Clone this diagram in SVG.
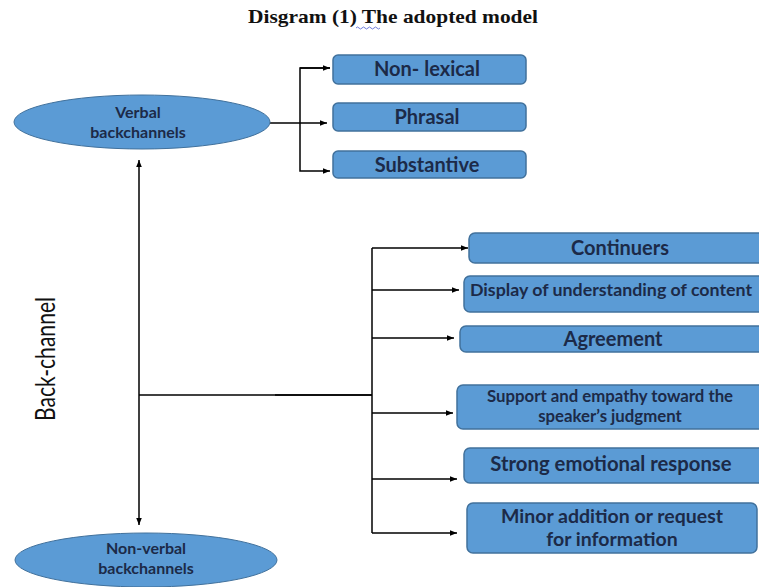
<svg xmlns="http://www.w3.org/2000/svg" width="759" height="587" viewBox="0 0 759 587">
<defs>
<marker id="ah" viewBox="0 0 10 10" refX="10" refY="5" markerWidth="7" markerHeight="7" markerUnits="userSpaceOnUse" orient="auto-start-reverse"><path d="M0,1 L10,5 L0,9 Z" fill="#000"/></marker>
<style>
.box{fill:#5b9bd5;stroke:#41719c;stroke-width:1.5}
.ell{fill:#5b9bd5;stroke:#41719c;stroke-width:1}
.t{font-family:Lato,"Open Sans","Liberation Sans",sans-serif;font-weight:bold;fill:#1c2a48;text-anchor:middle}
.c{fill:none;stroke:#000;stroke-width:1.5}
</style>
</defs>
<rect width="759" height="587" fill="#fff"/>
<g id="title">
<text x="393" y="23" font-family="'Liberation Serif',serif" font-weight="bold" font-size="19" text-anchor="middle" fill="#111" textLength="290" lengthAdjust="spacingAndGlyphs">Disgram (1) The adopted model</text>
<path d="M356,28 q1.5,-2 3,0 t3,0 t3,0 t3,0 t3,0 t3,0 t3,0 t3,0" fill="none" stroke="#4a5bd0" stroke-width="0.8"/>
</g>
<g id="connectors">
<path class="c" d="M270,123 H327" marker-end="url(#ah)"/>
<path class="c" d="M330,68 H300 V171 H330" marker-end="url(#ah)"/>
<path class="c" d="M300,68 H330" marker-end="url(#ah)"/>
<path class="c" d="M139,160 V525" marker-start="url(#ah)" marker-end="url(#ah)"/>
<path class="c" d="M139,395 H372"/>
<path class="c" d="M275,395 H372" stroke-width="2.2"/>
<path class="c" d="M372,248 V533"/>
<path class="c" d="M372,248 H468" marker-end="url(#ah)"/>
<path class="c" d="M372,290 H459" marker-end="url(#ah)"/>
<path class="c" d="M372,338 H454" marker-end="url(#ah)"/>
<path class="c" d="M372,413 H453" marker-end="url(#ah)"/>
<path class="c" d="M372,479 H457" marker-end="url(#ah)"/>
<path class="c" d="M372,533 H457" marker-end="url(#ah)"/>
</g>
<g id="backchannel-label">
<text transform="translate(55,359) rotate(-90)" font-family="Lato,'Open Sans','Liberation Sans',sans-serif" font-size="26" text-anchor="middle" fill="#111" textLength="124" lengthAdjust="spacingAndGlyphs">Back-channel</text>
</g>
<g id="verbal">
<ellipse class="ell" cx="142" cy="122" rx="128" ry="27"/>
<text class="t" x="138" y="118" font-size="16">Verbal</text>
<text class="t" x="138" y="138" font-size="16">backchannels</text>
</g>
<g id="nonverbal">
<ellipse class="ell" cx="146" cy="560" rx="131" ry="27"/>
<text class="t" x="146" y="554" font-size="16">Non-verbal</text>
<text class="t" x="146" y="574" font-size="16">backchannels</text>
</g>
<g id="nonlexical">
<rect class="box" x="333" y="55" width="193" height="29" rx="5"/>
<text class="t" x="427" y="76" font-size="20">Non- lexical</text>
</g>
<g id="phrasal">
<rect class="box" x="333" y="103" width="193" height="28" rx="5"/>
<text class="t" x="427" y="124" font-size="20">Phrasal</text>
</g>
<g id="substantive">
<rect class="box" x="333" y="151" width="193" height="27" rx="5"/>
<text class="t" x="427" y="172" font-size="20">Substantive</text>
</g>
<g id="continuers">
<rect class="box" x="469" y="233" width="295" height="30" rx="6"/>
<text class="t" x="620" y="255" font-size="20">Continuers</text>
</g>
<g id="display">
<rect class="box" x="464" y="276" width="300" height="36" rx="6"/>
<text class="t" x="611" y="296" font-size="17.8">Display of understanding of content</text>
</g>
<g id="agreement">
<rect class="box" x="460" y="326" width="304" height="26" rx="6"/>
<text class="t" x="613" y="346" font-size="20">Agreement</text>
</g>
<g id="support">
<rect class="box" x="457" y="385" width="307" height="44" rx="6"/>
<text class="t" x="610" y="402" font-size="16.8">Support and empathy toward the</text>
<text class="t" x="610" y="422" font-size="16.8">speaker’s judgment</text>
</g>
<g id="strong">
<rect class="box" x="464" y="448" width="300" height="35" rx="6"/>
<text class="t" x="611" y="471" font-size="20.3">Strong emotional response</text>
</g>
<g id="minor">
<rect class="box" x="467" y="503" width="290" height="50" rx="6"/>
<text class="t" x="612" y="523" font-size="19.5">Minor addition or request</text>
<text class="t" x="612" y="546" font-size="19.5">for information</text>
</g>
</svg>
